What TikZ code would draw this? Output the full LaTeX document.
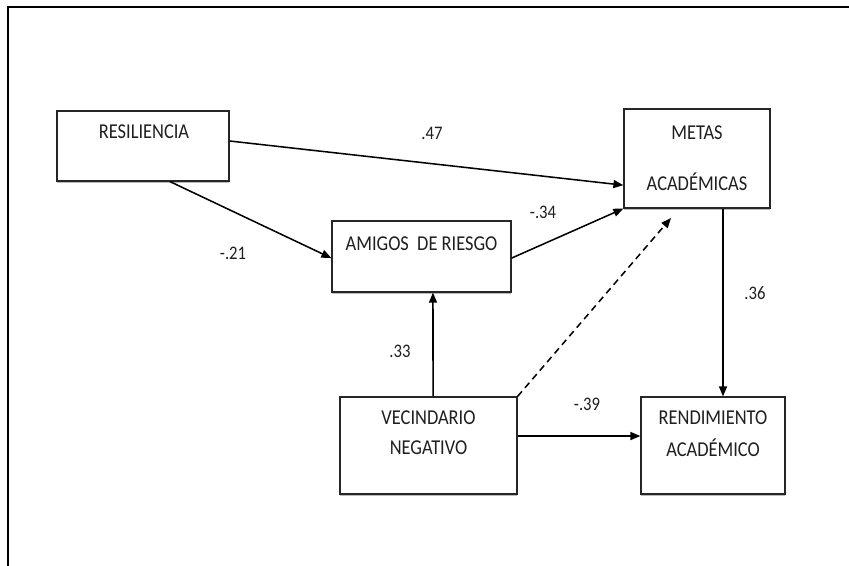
\documentclass[tikz,border=0pt]{standalone}
\usepackage{graphicx}
\usepackage{fontspec}
\setmainfont{Carlito}
\usetikzlibrary{arrows.meta,shadows}

% slightly tall lettering
\newcommand{\tallset}[1]{\scalebox{1}[1.15]{#1}}

\begin{document}
\begin{tikzpicture}[x=0.75pt,y=-0.75pt,
    varbox/.style={draw=black!85, line width=0.9pt, fill=white, inner sep=0pt,
      drop shadow={shadow xshift=0pt, shadow yshift=-1.2pt, opacity=0.45, fill=black!60}},
    varname/.style={font=\fontsize{13.8}{16}\selectfont, text=black!88, inner sep=0pt},
    coef/.style={font=\fontsize{12.5}{15}\selectfont, text=black!88, inner sep=0pt},
    link/.style={line width=1.15pt, -{Triangle[length=7.5pt,width=6pt]}},
    weaklink/.style={link, dash pattern=on 5pt off 3.5pt}]

  \useasboundingbox (0,0) rectangle (849,566);

  % frame
  \draw[line width=1.9pt] (8,566) -- (8,7) -- (849,7);

  % variables
  \node[varbox, minimum width=129pt, minimum height=52.5pt] (res) at (143,146) {};
  \node[varname] (resT) at (144,132) {\tallset{RESILIENCIA}};

  \node[varbox, minimum width=109.5pt, minimum height=74.25pt] (met) at (697,158.5) {};
  \node[varname] (metT1) at (697,133) {\tallset{METAS}};
  \node[varname] (metT2) at (697,182) {\tallset{ACADÉMICAS}};

  \node[varbox, minimum width=134.25pt, minimum height=53.25pt] (ami) at (421.5,256.5) {};
  \node[varname] (amiT) at (421.5,244) {\tallset{AMIGOS\ \ DE RIESGO}};

  \node[varbox, minimum width=132.75pt, minimum height=72.75pt] (vec) at (428.5,445.5) {};
  \node[varname] (vecT1) at (428.5,418) {\tallset{VECINDARIO}};
  \node[varname] (vecT2) at (428.5,448) {\tallset{NEGATIVO}};

  \node[varbox, minimum width=108pt, minimum height=72.75pt] (ren) at (713,445.5) {};
  \node[varname] (renT1) at (713,418) {\tallset{RENDIMIENTO}};
  \node[varname] (renT2) at (713,448) {\tallset{ACADÉMICO}};

  % end of the non-significant path, just below METAS
  \coordinate (metLow) at (671,218);

  % paths
  \draw[link] ([yshift=3.75pt]res.east) -- ([yshift=-20pt]met.west);
  \draw[link] ([xshift=20.25pt]res.south) -- ([yshift=-1.2pt]ami.west);
  \draw[link] ([yshift=-1.2pt]ami.east) -- (met.south west);
  \draw[link] ([xshift=3.4pt]vec.north) -- ([xshift=8.6pt]ami.south);
  \draw[weaklink] (vec.north east) -- (metLow);
  \draw[link] ([yshift=7.1pt]vec.east) -- ([yshift=7.1pt]ren.west);
  \draw[link] ([xshift=19.5pt]met.south) -- ([xshift=7.5pt]ren.north);

  % coefficients
  \node[coef] (c47) at (432,133) {\tallset{.47}};
  \node[coef] (c21) at (233,253) {\tallset{-.21}};
  \node[coef] (c34) at (543,212) {\tallset{-.34}};
  \node[coef] (c36) at (755,293) {\tallset{.36}};
  \node[coef] (c33) at (400,351) {\tallset{.33}};
  \node[coef] (c39) at (587,404) {\tallset{-.39}};
\end{tikzpicture}
\end{document}
